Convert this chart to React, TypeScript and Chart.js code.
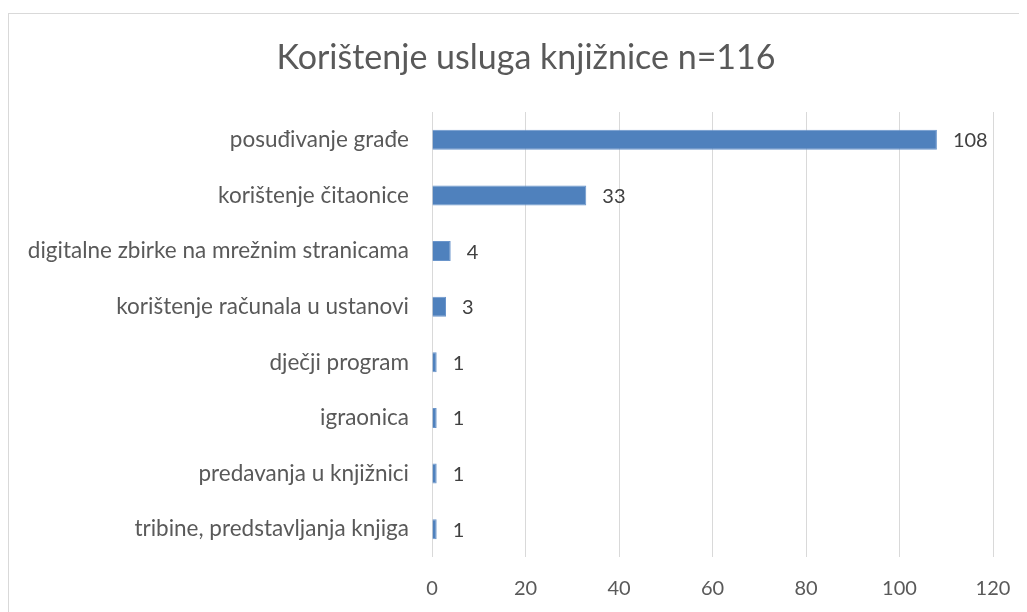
import React, { useEffect, useRef } from "react";
import { Chart, registerables } from "chart.js";

Chart.register(...registerables);

const categories = [
  "posuđivanje građe",
  "korištenje čitaonice",
  "digitalne zbirke na mrežnim stranicama",
  "korištenje računala u ustanovi",
  "dječji program",
  "igraonica",
  "predavanja u knjižnici",
  "tribine, predstavljanja knjiga",
];
const values = [108, 33, 4, 3, 1, 1, 1, 1];
const titleText = "Korištenje usluga knjižnice n=116";
const xMin = 0;
const xMax = 120;
const xStep = 20;

const FONT = "Lato, 'Open Sans', sans-serif";

const frame = {
  id: "frame",
  beforeDraw(chart: any) {
    const { ctx } = chart;
    ctx.save();
    ctx.fillStyle = "#ffffff";
    ctx.fillRect(0, 0, chart.width, chart.height);
    ctx.strokeStyle = "#d9d9d9";
    ctx.lineWidth = 1;
    ctx.strokeRect(0.5, 5.5, chart.width + 20, chart.height + 20);
    ctx.restore();
  },
};

const titleDraw = {
  id: "titleDraw",
  afterDraw(chart: any) {
    const { ctx } = chart;
    ctx.save();
    ctx.fillStyle = "#595959";
    ctx.font = `34px ${FONT}`;
    ctx.textAlign = "center";
    ctx.textBaseline = "middle";
    ctx.fillText(titleText, 518, 50);
    ctx.restore();
  },
};

const valueLabels = {
  id: "valueLabels",
  afterDatasetsDraw(chart: any) {
    const { ctx } = chart;
    const meta = chart.getDatasetMeta(0);
    ctx.save();
    ctx.fillStyle = "#404040";
    ctx.font = `20px ${FONT}`;
    ctx.textAlign = "left";
    ctx.textBaseline = "middle";
    meta.data.forEach((bar: any, i: number) => {
      ctx.fillText(String(values[i]), bar.x + 16, bar.y + 1);
    });
    ctx.restore();
  },
};

export default function App() {
  const ref = useRef<HTMLCanvasElement | null>(null);
  useEffect(() => {
    if (!ref.current) return;
    const chart = new Chart(ref.current, {
      type: "bar",
      data: {
        labels: categories,
        datasets: [
          {
            data: values,
            backgroundColor: "#4f81bd",
            borderColor: "#6a95cb",
            borderWidth: 1,
            barPercentage: 0.36,
            categoryPercentage: 1,
          },
        ],
      },
      options: {
        indexAxis: "y",
        animation: false,
        responsive: false,
        maintainAspectRatio: false,
        layout: { padding: { left: 0, right: 34, top: 104, bottom: 0 } },
        plugins: {
          legend: { display: false },
          tooltip: { enabled: false },
          title: { display: false },
        },
        scales: {
          x: {
            min: xMin,
            max: xMax,
            ticks: {
              stepSize: xStep,
              color: "#595959",
              font: { family: FONT, size: 20, lineHeight: 3.2 },
              padding: 0,
            },
            grid: { color: "#d9d9d9", lineWidth: 1, drawTicks: false },
            border: { display: false },
            afterFit: (s: any) => {
              s.height = 55;
            },
          },
          y: {
            ticks: {
              color: "#595959",
              font: { family: FONT, size: 22.5 },
              padding: 23,
            },
            grid: { display: false, drawTicks: false },
            border: { display: false },
            afterFit: (s: any) => {
              s.width = 424;
            },
          },
        },
      },
      plugins: [frame, titleDraw, valueLabels],
    });
    return () => chart.destroy();
  }, []);
  return (
    <div style={{ width: 1019, height: 604 }}>
      <canvas ref={ref} width={1019} height={604} style={{ display: "block" }} />
    </div>
  );
}
